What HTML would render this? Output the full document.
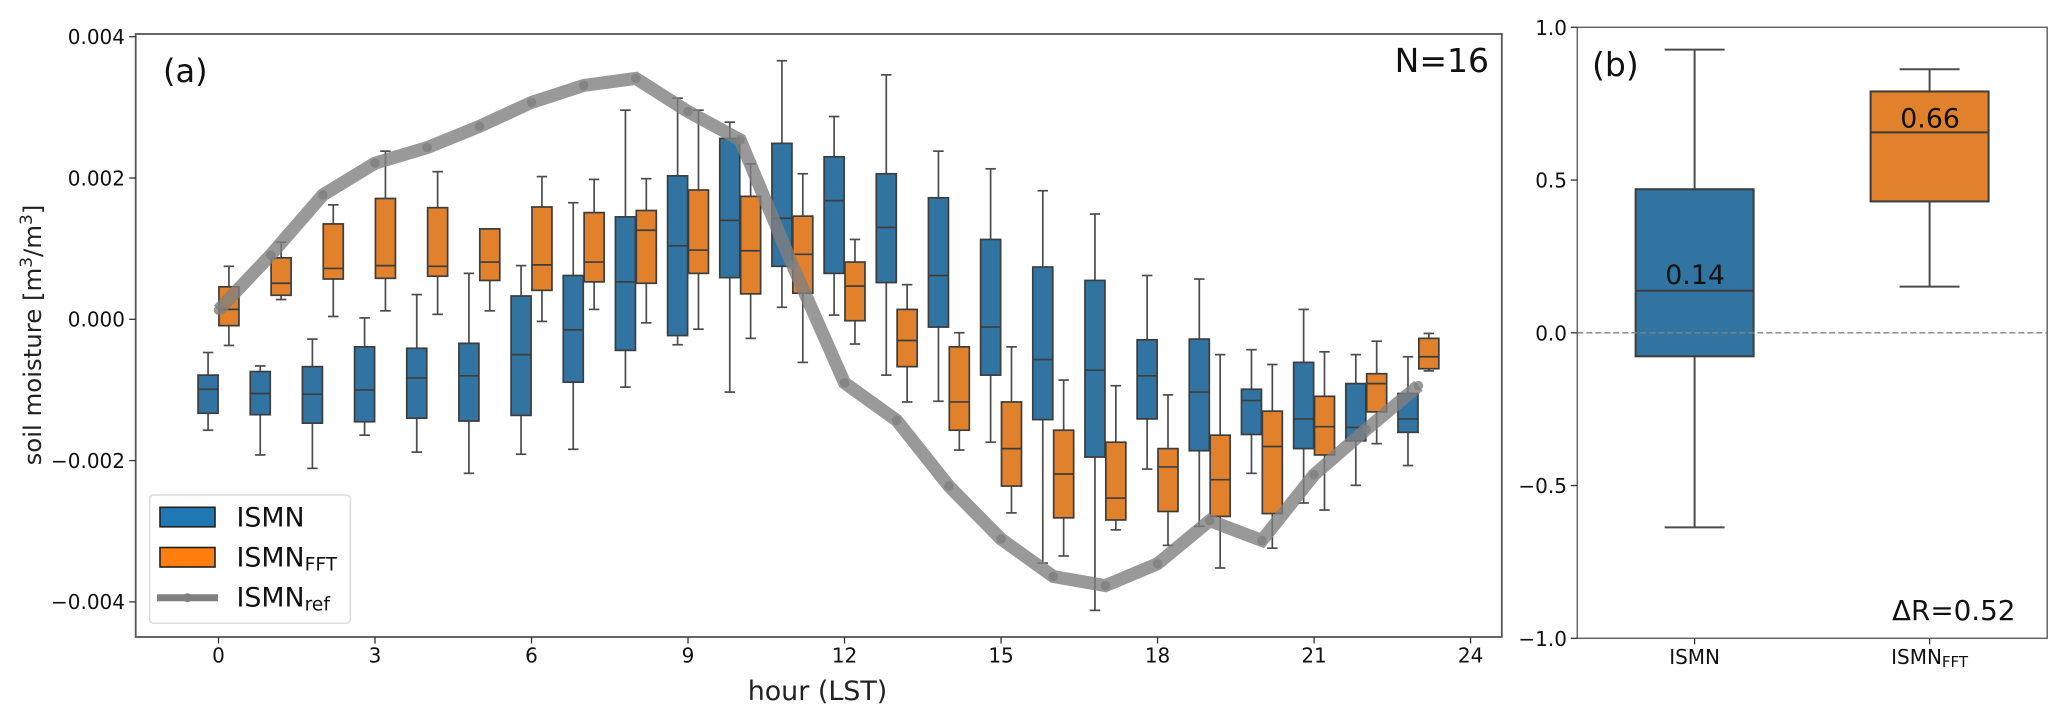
<!DOCTYPE html>
<html lang="en">
<head>
<meta charset="utf-8">
<title>Soil moisture diurnal cycle</title>
<style>
html,body{margin:0;padding:0;background:#fff;width:2067px;height:723px;overflow:hidden}
svg{display:block;font-family:"DejaVu Sans","Liberation Sans",sans-serif;filter:blur(0.35px)}
</style>
</head>
<body>
<svg id="figure" xmlns="http://www.w3.org/2000/svg" width="2067" height="723" viewBox="0 0 2067 723">
  <g id="panelA"></g>
  <g id="panelB"></g>

  <text x="163" y="82" font-size="32" fill="#111">(a)</text>
  <text x="1489" y="72" font-size="33" fill="#111" text-anchor="end">N=16</text>
  <text transform="translate(41,335) rotate(-90)" font-size="24.4" fill="#222" text-anchor="middle">soil moisture [m<tspan font-size="17" dy="-9">3</tspan><tspan dy="9">/m</tspan><tspan font-size="17" dy="-9">3</tspan><tspan dy="9">]</tspan></text>
  <text x="817.5" y="700" font-size="26.9" fill="#222" text-anchor="middle">hour (LST)</text>

  <g>
    <rect x="149.6" y="495" width="200.8" height="128.3" rx="4" fill="#fff" fill-opacity="0.85" stroke="#dcdcdc" stroke-width="1.5"/>
    <rect x="160" y="507.3" width="55" height="19.5" fill="#1f77b4" stroke="#222" stroke-width="1.6"/>
    <rect x="160" y="547.5" width="55" height="19.5" fill="#ff7f0e" stroke="#222" stroke-width="1.6"/>
    <line x1="157" y1="597.7" x2="218" y2="597.7" stroke="#808080" stroke-width="7"/>
    <circle cx="187.5" cy="597.7" r="4.5" fill="#808080"/>
    <text x="236.5" y="526.7" font-size="26.8" fill="#111">ISMN</text>
    <text x="236.5" y="566.7" font-size="26.8" fill="#111">ISMN<tspan font-size="18.7" dy="4">FFT</tspan></text>
    <text x="236.5" y="606.7" font-size="26.8" fill="#111">ISMN<tspan font-size="18.7" dy="4">ref</tspan></text>
  </g>

  <text x="1592" y="76" font-size="33" fill="#111">(b)</text>
  <text x="2015.5" y="620" font-size="27.8" fill="#111" text-anchor="end">ΔR=0.52</text>
</svg>

<script>
// ---- Panel (a) data: soil moisture anomalies, in units of 0.001 m3/m3 ----
const hours = [0,1,2,3,4,5,6,7,8,9,10,11,12,13,14,15,16,17,18,19,20,21,22,23];

const ismnHigh   = [-0.47,-0.66,-0.28,0.02,0.35,0.65,0.76,1.65,2.96,3.13,2.79,3.66,2.87,3.46,2.38,2.13,1.82,1.49,0.62,0.57,-0.43,0.14,-0.50,-0.53];
const ismnQ3     = [-0.79,-0.74,-0.67,-0.39,-0.41,-0.34,0.33,0.62,1.45,2.03,2.56,2.49,2.30,2.06,1.72,1.13,0.74,0.55,-0.29,-0.28,-0.99,-0.61,-0.91,-1.05];
const ismnMedian = [-0.99,-1.05,-1.06,-1.00,-0.83,-0.80,-0.50,-0.15,0.53,1.04,1.40,1.43,1.68,1.30,0.62,-0.11,-0.57,-0.72,-0.80,-1.03,-1.15,-1.41,-1.53,-1.41];
const ismnQ1     = [-1.33,-1.35,-1.47,-1.45,-1.40,-1.44,-1.36,-0.89,-0.44,-0.23,0.59,0.75,0.65,0.52,-0.11,-0.79,-1.42,-1.95,-1.41,-1.86,-1.63,-1.83,-1.72,-1.60];
const ismnLow    = [-1.57,-1.92,-2.11,-1.64,-1.88,-2.18,-1.91,-1.84,-0.96,-0.36,-1.03,0.17,0.06,-0.79,-1.16,-1.74,-3.45,-4.12,-2.12,-2.93,-2.18,-2.60,-2.35,-2.07];

const fftHigh    = [0.75,1.09,1.62,2.38,2.09,1.28,2.02,1.98,1.99,2.96,2.20,2.06,1.13,0.49,-0.19,-0.39,-0.86,-0.94,-1.07,-0.50,-0.64,-0.46,-0.31,-0.20];
const fftQ3      = [0.46,0.87,1.35,1.71,1.58,1.28,1.59,1.51,1.54,1.83,1.74,1.46,0.81,0.14,-0.39,-1.17,-1.57,-1.74,-1.83,-1.64,-1.30,-1.09,-0.77,-0.27];
const fftMedian  = [0.14,0.51,0.72,0.76,0.75,0.81,0.77,0.81,1.26,0.98,0.97,0.92,0.47,-0.30,-1.17,-1.83,-2.19,-2.53,-2.09,-2.27,-1.80,-1.52,-0.91,-0.53];
const fftQ1      = [-0.09,0.34,0.57,0.58,0.61,0.55,0.41,0.53,0.51,0.65,0.36,0.37,-0.02,-0.67,-1.57,-2.36,-2.81,-2.84,-2.72,-2.79,-2.75,-1.92,-1.31,-0.70];
const fftLow     = [-0.37,0.28,0.04,0.12,0.07,0.12,-0.03,0.14,-0.05,-0.14,-0.27,-0.61,-0.35,-1.17,-1.85,-2.74,-3.35,-2.98,-3.20,-3.52,-3.24,-2.70,-1.76,-0.73];

const refLine    = [0.13,0.91,1.76,2.21,2.43,2.73,3.07,3.31,3.41,2.94,2.54,0.77,-0.90,-1.43,-2.36,-3.11,-3.64,-3.77,-3.46,-2.85,-3.13,-2.20,-1.56,-0.94];

const xTickValuesA = [0,3,6,9,12,15,18,21,24];
const yTickValuesA = [4,2,0,-2,-4];
const yTickLabelsA = ["0.004","0.002","0.000","\u22120.002","\u22120.004"];

// ---- Panel (b) data: correlation distribution ----
const corrCategories = ["ISMN","ISMN_FFT"];
const corrHigh   = [0.927,0.8625];
const corrQ3     = [0.47,0.79];
const corrMedian = [0.1375,0.656];
const corrQ1     = [-0.077,0.43];
const corrLow    = [-0.637,0.151];
const corrLabels = ["0.14","0.66"];
const yTickValuesB = [1,0.5,0,-0.5,-1];
const yTickLabelsB = ["1.0","0.5","0.0","\u22120.5","\u22121.0"];

// ---- Helpers ----
const NS = "http://www.w3.org/2000/svg";
function mk(parent, tag, attrs, text) {
  const el = document.createElementNS(NS, tag);
  for (const k in attrs) el.setAttribute(k, attrs[k]);
  if (text !== undefined) el.textContent = text;
  parent.appendChild(el);
  return el;
}

const BLUE = "#3274a1", ORANGE = "#e1812c", EDGE = "#3d3d3d", WHISK = "#4c4c4c";

// ---- Panel (a) ----
const A = {left:135.7, right:1501.8, top:34, bottom:637};
const xA = h => 218.5 + 52.17 * h;
const yA = v => 319.3 - 70.65 * v;
const panelA = document.getElementById("panelA");

function drawBox(parent, name, cx, w, capW, y, hi, q3, med, q1, lo, fill, sw) {
  const g = mk(parent, "g", {});
  
  
  const up = mk(g, "line", {x1:cx, x2:cx, y1:y(hi), y2:y(q3), stroke:WHISK, "stroke-width":sw});
  
  
  const dn = mk(g, "line", {x1:cx, x2:cx, y1:y(q1), y2:y(lo), stroke:WHISK, "stroke-width":sw});
  
  
  const c1 = mk(g, "line", {x1:cx-capW/2, x2:cx+capW/2, y1:y(hi), y2:y(hi), stroke:WHISK, "stroke-width":sw});
  
  
  const c2 = mk(g, "line", {x1:cx-capW/2, x2:cx+capW/2, y1:y(lo), y2:y(lo), stroke:WHISK, "stroke-width":sw});
  
  
  const r = mk(g, "rect", {x:cx-w/2, y:y(q3), width:w, height:y(q1)-y(q3), fill:fill, stroke:EDGE, "stroke-width":sw});
  
  
  const m = mk(g, "line", {x1:cx-w/2, x2:cx+w/2, y1:y(med), y2:y(med), stroke:EDGE, "stroke-width":sw});
  
  
}

hours.forEach((h, i) => {
  drawBox(panelA, "ismn-box-" + h, xA(h - 0.2), 20, 10.5, yA,
    ismnHigh[i], ismnQ3[i], ismnMedian[i], ismnQ1[i], ismnLow[i], BLUE, 1.7);
});
hours.forEach((h, i) => {
  drawBox(panelA, "ismn-fft-box-" + h, xA(h + 0.2), 20, 10.5, yA,
    fftHigh[i], fftQ3[i], fftMedian[i], fftQ1[i], fftLow[i], ORANGE, 1.7);
});

const refPath = mk(panelA, "polyline", {
  points: hours.map((h, i) => xA(h) + "," + yA(refLine[i])).join(" "),
  fill: "none", stroke: "#808080", "stroke-opacity": 0.8, "stroke-width": 13, "stroke-linejoin": "miter"
});


hours.forEach((h, i) => {
  const p = mk(panelA, "circle", {cx:xA(h), cy:yA(refLine[i]), r:4.8, fill:"#808080", "fill-opacity":0.8});
  
  
});

const frameA = mk(panelA, "rect", {x:A.left, y:A.top, width:A.right-A.left, height:A.bottom-A.top, fill:"none", stroke:"#555", "stroke-width":1.8});



xTickValuesA.forEach(v => {
  const t = mk(panelA, "line", {x1:xA(v), x2:xA(v), y1:A.bottom, y2:A.bottom+6.5, stroke:"#333", "stroke-width":1.3});
  
  
  const l = mk(panelA, "text", {x:xA(v), y:662.3, "font-size":20, fill:"#111", "text-anchor":"middle"}, String(v));
  
  
});
yTickValuesA.forEach((v, i) => {
  const t = mk(panelA, "line", {x1:A.left-6.5, x2:A.left, y1:yA(v), y2:yA(v), stroke:"#333", "stroke-width":1.3});
  
  
  const l = mk(panelA, "text", {x:125, y:yA(v)+7.3, "font-size":20, fill:"#111", "text-anchor":"end"}, yTickLabelsA[i]);
  
  
});

// ---- Panel (b) ----
const B = {left:1577.3, right:2047.2, top:27.3, bottom:638.3};
const xB = i => 1694.6 + 235 * i;
const yB = v => 332.8 - 305.5 * v;
const panelB = document.getElementById("panelB");

corrCategories.forEach((c, i) => {
  drawBox(panelB, "correlation-box-" + c.toLowerCase().replace("_", "-"), xB(i), 118, 60, yB,
    corrHigh[i], corrQ3[i], corrMedian[i], corrQ1[i], corrLow[i], i === 0 ? BLUE : ORANGE, 2);
});
const zeroLine = mk(panelB, "line", {x1:B.left, x2:B.right, y1:yB(0), y2:yB(0), stroke:"#808080", "stroke-width":1.3, "stroke-dasharray":"6 3"});



corrLabels.forEach((s, i) => {
  const l = mk(panelB, "text", {x:xB(i)+0.5, y:yB(corrMedian[i]) - (i === 0 ? 7 : 5), "font-size":26.8, fill:"#111", "text-anchor":"middle"}, s);
  
  
});

const frameB = mk(panelB, "rect", {x:B.left, y:B.top, width:B.right-B.left, height:B.bottom-B.top, fill:"none", stroke:"#666", "stroke-width":1.5});



corrCategories.forEach((c, i) => {
  const t = mk(panelB, "line", {x1:xB(i), x2:xB(i), y1:B.bottom, y2:B.bottom+6, stroke:"#333", "stroke-width":1.3});
  
  
  const parts = c.split("_");
  const l = mk(panelB, "text", {x:xB(i), y:664, "font-size":20, fill:"#111", "text-anchor":"middle"}, parts[0]);
  
  
  if (parts[1]) {
    const s = mk(l, "tspan", {"font-size":15, dy:3}, parts[1]);
    
    
  }
});
yTickValuesB.forEach((v, i) => {
  const t = mk(panelB, "line", {x1:B.left-6.5, x2:B.left, y1:yB(v), y2:yB(v), stroke:"#333", "stroke-width":1.3});
  
  
  const l = mk(panelB, "text", {x:1567, y:yB(v)+7.5, "font-size":20, fill:"#111", "text-anchor":"end"}, yTickLabelsB[i]);
  
  
});
</script>
</body>
</html>
